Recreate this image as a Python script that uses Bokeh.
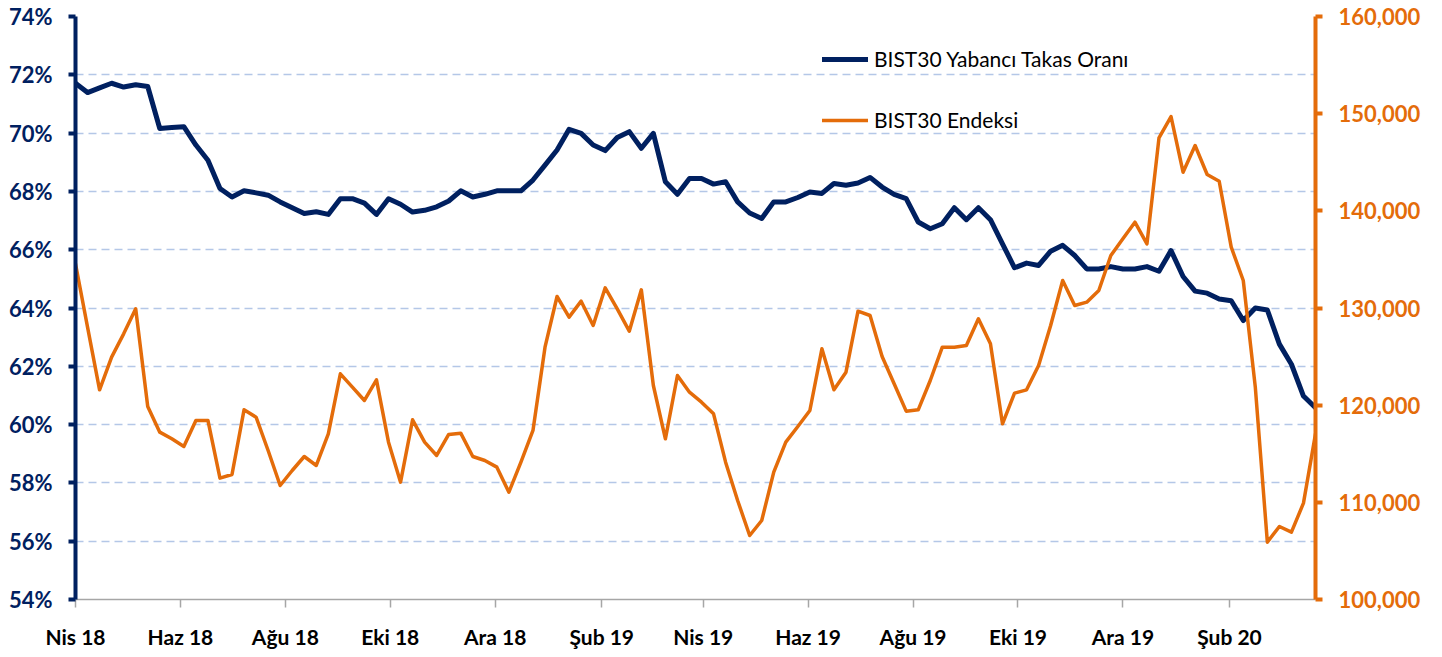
import pandas as pd
from bokeh.plotting import figure
from bokeh.models import (Range1d, LinearAxis, FixedTicker, Legend, LegendItem,
                          PrintfTickFormatter, NumeralTickFormatter, ColumnDataSource)
from bokeh.embed import file_html
from bokeh.resources import INLINE

# ---------------- data ----------------
start_date = "2018-04-06"
n_weeks = 104

yabanci_takas = [
    71.71, 71.39, 71.55, 71.71, 71.58, 71.66, 71.60, 70.16, 70.19, 70.22,
    69.59, 69.07, 68.10, 67.81, 68.02, 67.95, 67.87, 67.64, 67.44, 67.24,
    67.30, 67.21, 67.75, 67.75, 67.60, 67.21, 67.75, 67.56, 67.29, 67.35,
    67.47, 67.67, 68.02, 67.81, 67.90, 68.02, 68.02, 68.02, 68.39, 68.90,
    69.42, 70.13, 69.99, 69.59, 69.40, 69.85, 70.05, 69.48, 69.99, 68.33,
    67.90, 68.44, 68.44, 68.25, 68.33, 67.64, 67.26, 67.07, 67.64, 67.64,
    67.79, 67.98, 67.93, 68.27, 68.21, 68.29, 68.48, 68.15, 67.90, 67.75,
    66.95, 66.72, 66.89, 67.44, 67.03, 67.44, 67.03, 66.20, 65.38, 65.54,
    65.46, 65.95, 66.15, 65.80, 65.34, 65.34, 65.42, 65.34, 65.34, 65.42,
    65.26, 65.97, 65.08, 64.58, 64.51, 64.31, 64.25, 63.57, 64.00, 63.93,
    62.76, 62.07, 60.98, 60.58,
]

bist30_endeks = [
    134545, 128027, 121580, 124940, 127340, 129914, 119864, 117223, 116537, 115748,
    118424, 118424, 112490, 112867, 119520, 118766, 115336, 111734, 113277, 114718,
    113792, 117051, 123225, 121853, 120481, 122607, 116193, 112077, 118491, 116193,
    114821, 116982, 117120, 114718, 114307, 113621, 111048, 114135, 117394, 125969,
    131183, 129056, 130703, 128199, 132075, 129914, 127616, 131869, 122024, 116536,
    123053, 121338, 120309, 119109, 114135, 110190, 106589, 108132, 113106, 116193,
    117806, 119452, 125798, 121580, 123396, 129674, 129228, 125009, 122196, 119383,
    119520, 122539, 125969, 125969, 126141, 128885, 126312, 118080, 121236, 121580,
    124084, 128199, 132830, 130257, 130600, 131800, 135402, 137117, 138832, 136602,
    147509, 149705, 143976, 146720, 143736, 143050, 136259, 132829, 121853, 105903,
    107516, 106932, 109916, 117051,
]

tick_dates = ["2018-04-06", "2018-06-06", "2018-08-06", "2018-10-06", "2018-12-06",
              "2019-02-06", "2019-04-06", "2019-06-06", "2019-08-06", "2019-10-06",
              "2019-12-06", "2020-02-06"]
tick_labels = ["Nis 18", "Haz 18", "Ağu 18", "Eki 18", "Ara 18", "Şub 19",
               "Nis 19", "Haz 19", "Ağu 19", "Eki 19", "Ara 19", "Şub 20"]

left_ticks = [54, 56, 58, 60, 62, 64, 66, 68, 70, 72, 74]
right_ticks = [100000, 110000, 120000, 130000, 140000, 150000, 160000]

series_names = ["BIST30 Yabancı Takas Oranı", "BIST30 Endeksi"]

# ---------------- styling ----------------
NAVY = "#002060"
ORANGE = "#E46C0A"
GRID = "#B4C7E7"
FONT = "Lato"

dates = pd.date_range(start_date, periods=n_weeks, freq="7D")
src = ColumnDataSource(dict(date=dates, yabanci=yabanci_takas, endeks=bist30_endeks))

p = figure(width=1442, height=657, x_axis_type="datetime",
           output_backend="svg", toolbar_location=None,
           x_range=Range1d(dates[0].to_pydatetime(), dates[-1].to_pydatetime()),
           y_range=Range1d(left_ticks[0], left_ticks[-1]),
           min_border_left=75, min_border_right=127,
           min_border_top=16, min_border_bottom=58,
           background_fill_color="white", border_fill_color="white")
p.outline_line_color = None
p.extra_y_ranges = {"idx": Range1d(right_ticks[0], right_ticks[-1])}

# grid
p.xgrid.visible = False
p.ygrid.ticker = FixedTicker(ticks=left_ticks)
p.ygrid.grid_line_color = GRID
p.ygrid.grid_line_width = 1.5
p.ygrid.grid_line_dash = "8 5"

# lines
r1 = p.line("date", "yabanci", source=src, color=NAVY, line_width=5,
            line_join="round", line_cap="round")
r2 = p.line("date", "endeks", source=src, color=ORANGE, line_width=3.5,
            line_join="round", line_cap="round", y_range_name="idx")

# left axis
ya = p.yaxis[0]
ya.ticker = FixedTicker(ticks=left_ticks)
ya.formatter = PrintfTickFormatter(format="%d%%")
ya.axis_line_color = NAVY
ya.axis_line_width = 4
ya.major_tick_line_color = NAVY
ya.major_tick_line_width = 4
ya.major_tick_in = 0
ya.major_tick_out = 7
ya.minor_tick_line_color = None
ya.major_label_text_font = FONT
ya.major_label_text_font_style = "bold"
ya.major_label_text_font_size = "22px"
ya.major_label_text_color = NAVY
ya.major_label_standoff = 16

# right axis
ra = LinearAxis(y_range_name="idx", ticker=FixedTicker(ticks=right_ticks),
                formatter=NumeralTickFormatter(format="0,0"))
ra.axis_line_color = ORANGE
ra.axis_line_width = 4
ra.major_tick_line_color = ORANGE
ra.major_tick_line_width = 4
ra.major_tick_in = 0
ra.major_tick_out = 7
ra.minor_tick_line_color = None
ra.major_label_text_font = FONT
ra.major_label_text_font_style = "bold"
ra.major_label_text_font_size = "22px"
ra.major_label_text_color = ORANGE
ra.major_label_standoff = 16
p.add_layout(ra, "right")

# x axis
tick_ms = [float(pd.Timestamp(d).value // 10**6) for d in tick_dates]
xa = p.xaxis[0]
xa.ticker = FixedTicker(ticks=tick_ms)
xa.major_label_overrides = {t: lab for t, lab in zip(tick_ms, tick_labels)}
xa.axis_line_color = "#A6A6A6"
xa.axis_line_width = 1.5
xa.major_tick_line_color = "#A6A6A6"
xa.major_tick_line_width = 1.5
xa.major_tick_in = 0
xa.major_tick_out = 8
xa.minor_tick_line_color = None
xa.major_label_text_font = FONT
xa.major_label_text_font_style = "bold"
xa.major_label_text_font_size = "21px"
xa.major_label_text_color = "black"
xa.major_label_standoff = 16

# legend
legend = Legend(items=[LegendItem(label=series_names[0], renderers=[r1]),
                       LegendItem(label=series_names[1], renderers=[r2])],
                location=(747, 467))
legend.background_fill_alpha = 0
legend.border_line_color = None
legend.padding = 0
legend.margin = 0
legend.spacing = 36
legend.glyph_width = 46
legend.glyph_height = 20
legend.label_height = 20
legend.label_standoff = 6
legend.label_text_font = FONT
legend.label_text_font_size = "21px"
legend.label_text_color = "black"
p.add_layout(legend)

open("out.html", "w").write(file_html(p, INLINE))
